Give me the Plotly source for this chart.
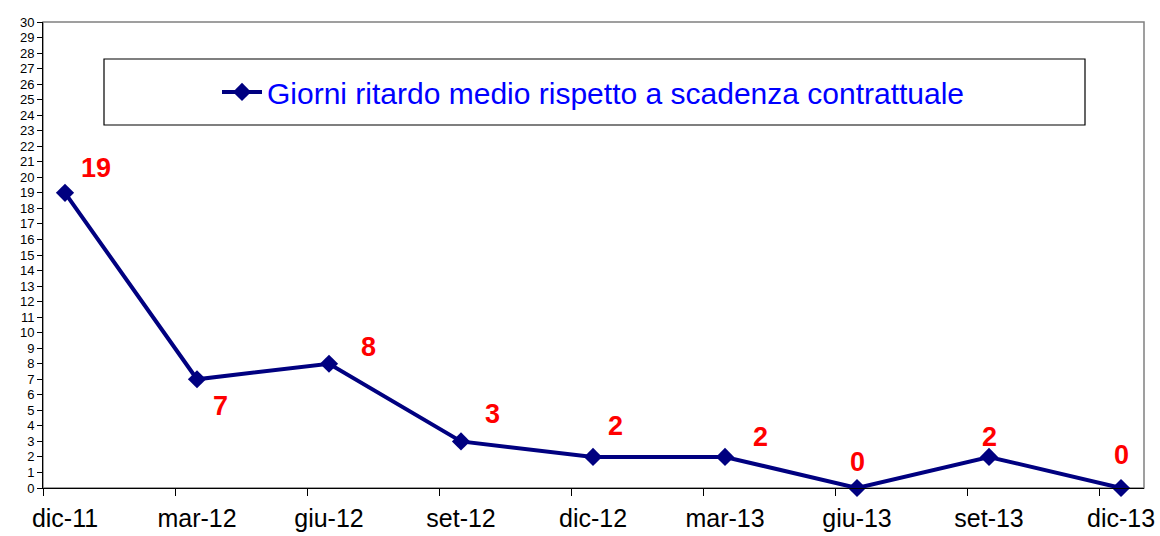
import plotly.graph_objects as go

# Quarterly series
periods = ["dic-11", "mar-12", "giu-12", "set-12", "dic-12", "mar-13", "giu-13", "set-13", "dic-13"]
giorni_ritardo = [19, 7, 8, 3, 2, 2, 0, 2, 0]
series_name = "Giorni ritardo medio rispetto a scadenza contrattuale"
y_ticks = list(range(0, 31))

# pixel offsets of the value labels relative to their points
label_dx = [31, 23, 39, 31, 22, 35, 0, 0, 0]
label_dy = [25, -27, 17, 27, 31, 20, 26, 20, 33]

x_pos = list(range(len(periods)))
x_range = [-1 / 6, len(periods) - 1 + 0.174]
boundaries = [i - 1 / 6 for i in x_pos]

NAVY = "#000080"
FONT = "Liberation Sans, Arial, sans-serif"

fig = go.Figure()
fig.add_trace(go.Scatter(
    x=x_pos, y=giorni_ritardo, mode="lines+markers", name=series_name,
    line=dict(color=NAVY, width=4),
    marker=dict(symbol="diamond", size=14, color=NAVY),
    cliponaxis=False,
))
# invisible trace carrying the category boundary tick marks
fig.add_trace(go.Scatter(x=boundaries, y=[None] * len(boundaries), xaxis="x2",
                         showlegend=False, hoverinfo="skip"))

for xv, yv, dx, dy in zip(x_pos, giorni_ritardo, label_dx, label_dy):
    fig.add_annotation(x=xv, y=yv, text=f"<b>{yv}</b>", showarrow=False,
                       xshift=dx, yshift=dy,
                       font=dict(family=FONT, size=27, color="#FF0000"))

fig.update_layout(
    width=1160, height=536,
    margin=dict(l=43, r=16, t=22, b=48, autoexpand=False),
    paper_bgcolor="white", plot_bgcolor="white",
    font=dict(family=FONT, color="black"),
    showlegend=True,
    legend=dict(x=0.5, xanchor="center", y=0.85, yanchor="middle",
                orientation="h", bgcolor="rgba(0,0,0,0)", borderwidth=0,
                font=dict(family=FONT, size=30, color="#0000FF"),
                itemwidth=40),
    xaxis=dict(range=x_range, tickvals=x_pos, ticktext=periods, ticks="",
               ticklabelstandoff=8, automargin=False,
               showgrid=False, zeroline=False, showline=True,
               linecolor="black", linewidth=1,
               tickfont=dict(family=FONT, size=25, color="black")),
    xaxis2=dict(range=x_range, overlaying="x", tickvals=boundaries,
                ticktext=[""] * len(boundaries), ticks="outside", ticklen=7,
                tickcolor="black", showgrid=False, zeroline=False,
                showline=False, side="bottom", automargin=False),
    yaxis=dict(range=[0, 30], tickvals=y_ticks, ticks="outside", ticklen=5,
               tickcolor="black", showgrid=False, zeroline=False,
               showline=True, linecolor="black", linewidth=1, automargin=False,
               tickfont=dict(family=FONT, size=13, color="black")),
    shapes=[
        dict(type="rect", xref="paper", yref="paper", x0=0, x1=1, y0=0, y1=1,
             line=dict(color="#808080", width=1.5), layer="below"),
        dict(type="rect", xref="paper", yref="paper",
             x0=(104 - 43) / 1101, x1=(1085 - 43) / 1101,
             y0=(488 - 125) / 466, y1=(488 - 59) / 466,
             line=dict(color="black", width=1.2), fillcolor="white", layer="below"),
    ],
)

fig.write_html("out.html")
